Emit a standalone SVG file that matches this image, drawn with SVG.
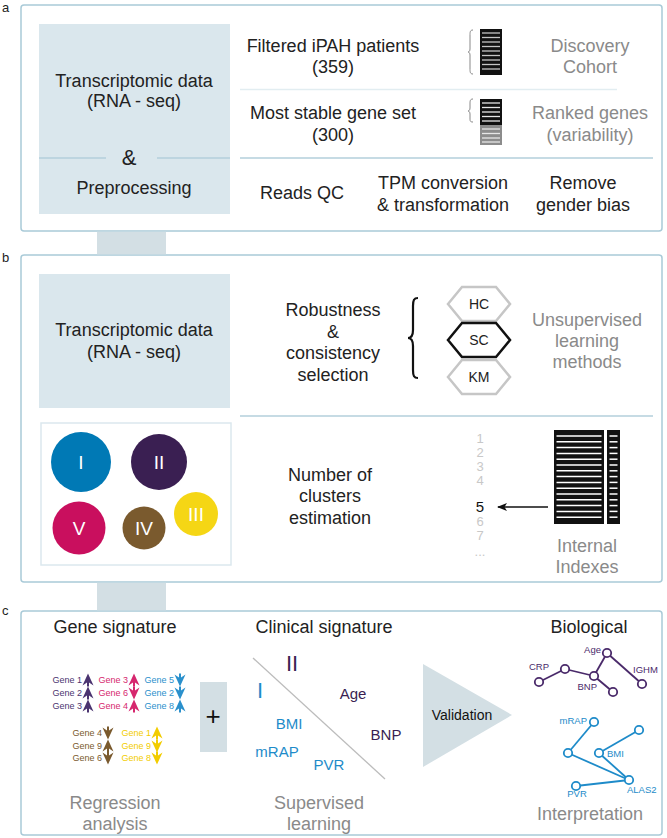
<svg xmlns="http://www.w3.org/2000/svg" xmlns:xlink="http://www.w3.org/1999/xlink" width="667" height="838" viewBox="0 0 667 838">
<style>
text{font-family:"Liberation Sans",Arial,sans-serif;}
.t{font-size:18px;fill:#222;text-anchor:middle;}
.g{font-size:18px;fill:#8a8a8a;text-anchor:middle;}
.lbl{font-size:13px;fill:#222;}
.panel{fill:#fff;stroke:#a9cad8;stroke-width:1.5;}
.bbox{fill:#dae7ed;}
.conn{fill:#d3dfe4;}
.div{stroke:#b3cfdb;stroke-width:1.5;fill:none;}
.num{font-size:13px;fill:#c8c8c8;text-anchor:middle;}
.gene{font-size:9px;text-anchor:end;}
.hex{fill:#fff;stroke:#c6c6c6;stroke-width:2.5;}
.hext{font-size:14px;fill:#222;text-anchor:middle;}
.cl{font-size:15px;text-anchor:middle;}
.nw{font-size:9.5px;}
.pe{stroke:#4a2a6a;stroke-width:1.8;fill:none;}
.be{stroke:#1e8bc9;stroke-width:1.8;fill:none;}
.pn{fill:#fff;stroke:#4a2a6a;stroke-width:1.8;}
.bn{fill:#fff;stroke:#1e8bc9;stroke-width:1.8;}
.circt{font-size:19px;fill:#fff;text-anchor:middle;}
</style>
<defs>
<path id="up" d="M0,-6.5 L5.5,5.5 L1,2.6 L1,6.5 L-1,6.5 L-1,2.6 L-5.5,5.5 Z"/>
<path id="dn" d="M0,6.5 L5.5,-5.5 L1,-2.6 L1,-6.5 L-1,-6.5 L-1,-2.6 L-5.5,-5.5 Z"/>
<marker id="ah" markerWidth="10" markerHeight="8" refX="9" refY="4" orient="auto" markerUnits="userSpaceOnUse">
<path d="M0,0 L10,4 L0,8 L2.5,4 Z" fill="#111"/>
</marker>
</defs>

<!-- Panel a -->
<g id="panel-a">
<text class="lbl" x="2" y="12">a</text>
<rect class="panel" x="21" y="5" width="641" height="226" rx="3"/>
<rect class="bbox" x="39" y="24" width="191" height="190"/>
<text class="t" x="134" y="87">Transcriptomic data</text>
<text class="t" x="134" y="107">(RNA - seq)</text>
<line class="div" x1="39" y1="158" x2="106" y2="158"/>
<line class="div" x1="157" y1="158" x2="230" y2="158"/>
<text class="t" x="129" y="165" style="font-size:22px">&amp;</text>
<text class="t" x="134" y="194">Preprocessing</text>
<text class="t" x="333" y="52">Filtered iPAH patients</text>
<text class="t" x="333" y="73">(359)</text>
<line x1="240" y1="89.5" x2="617" y2="89.5" stroke="#e2edf1" stroke-width="1.5"/>
<text class="t" x="333" y="119">Most stable gene set</text>
<text class="t" x="333" y="141">(300)</text>
<line class="div" x1="240" y1="158" x2="653" y2="158"/>
<text class="t" x="302" y="199">Reads QC</text>
<text class="t" x="443" y="189">TPM conversion</text>
<text class="t" x="443" y="211">&amp; transformation</text>
<text class="t" x="583" y="189">Remove</text>
<text class="t" x="583" y="211">gender bias</text>
<text class="g" x="590" y="52">Discovery</text>
<text class="g" x="590" y="73">Cohort</text>
<text class="g" x="590" y="119">Ranked genes</text>
<text class="g" x="590" y="141">(variability)</text>
<path d="M473,30 C470,30 470,32 470,36 L470,49 C470,51 469,52 468,52 C469,52 470,53 470,55 L470,68 C470,72 470,74 473,74" fill="none" stroke="#888" stroke-width="1"/>
<rect x="480" y="29" width="22" height="46" fill="#111"/>
<g stroke="#c4c4c4" stroke-width="1.3">
<line x1="482" y1="33" x2="500" y2="33"/><line x1="482" y1="37.5" x2="500" y2="37.5"/><line x1="482" y1="42" x2="500" y2="42"/><line x1="482" y1="46.5" x2="500" y2="46.5"/><line x1="482" y1="51" x2="500" y2="51"/><line x1="482" y1="55.5" x2="500" y2="55.5"/><line x1="482" y1="60" x2="500" y2="60"/><line x1="482" y1="64.5" x2="500" y2="64.5"/><line x1="482" y1="69" x2="500" y2="69"/>
</g>
<path d="M473,99 C470,99 470,101 470,104 L470,108 C470,110 469,111 468,111 C469,111 470,112 470,114 L470,118 C470,121 470,122 473,122" fill="none" stroke="#888" stroke-width="1"/>
<rect x="480" y="99" width="22" height="26" fill="#111"/>
<rect x="480" y="125" width="22" height="20" fill="#8c8c8c"/>
<g stroke="#e6e6e6" stroke-width="1.3">
<line x1="482" y1="103" x2="500" y2="103"/><line x1="482" y1="107.5" x2="500" y2="107.5"/><line x1="482" y1="112" x2="500" y2="112"/><line x1="482" y1="116.5" x2="500" y2="116.5"/><line x1="482" y1="121" x2="500" y2="121"/><line x1="482" y1="129" x2="500" y2="129"/><line x1="482" y1="133.5" x2="500" y2="133.5"/><line x1="482" y1="138" x2="500" y2="138"/><line x1="482" y1="142" x2="500" y2="142"/>
</g>
</g>

<!-- Panel b -->
<g id="panel-b">
<text class="lbl" x="2" y="262">b</text>
<rect class="panel" x="21" y="255" width="641" height="327" rx="3"/>
<rect class="bbox" x="39" y="274" width="191" height="134"/>
<text class="t" x="134" y="336">Transcriptomic data</text>
<text class="t" x="134" y="358">(RNA - seq)</text>
<text class="t" x="333" y="316">Robustness</text>
<text class="t" x="333" y="338">&amp;</text>
<text class="t" x="333" y="359">consistency</text>
<text class="t" x="333" y="381">selection</text>
<path d="M418,298 C414,298 413,300 413,306 L413,330 C413,335 412,338 408,338 C412,338 413,341 413,346 L413,370 C413,376 414,378 418,378" fill="none" stroke="#111" stroke-width="2.2"/>
<line class="div" x1="240" y1="416" x2="653" y2="416"/>
<text class="t" x="330" y="481">Number of</text>
<text class="t" x="330" y="502">clusters</text>
<text class="t" x="330" y="524">estimation</text>
<text class="g" x="587" y="326">Unsupervised</text>
<text class="g" x="587" y="347">learning</text>
<text class="g" x="587" y="368">methods</text>
<text class="num" x="480" y="443">1</text>
<text class="num" x="480" y="457">2</text>
<text class="num" x="480" y="471">3</text>
<text class="num" x="480" y="485">4</text>
<text class="num" x="480" y="512" style="fill:#111;font-size:15px">5</text>
<text class="num" x="480" y="526">6</text>
<text class="num" x="480" y="540">7</text>
<text class="num" x="480" y="556">...</text>
<rect x="554" y="430" width="50" height="94" fill="#111"/>
<rect x="607" y="430" width="13" height="94" fill="#111"/>
<g stroke="#fff" stroke-width="1.5">
<line x1="556.5" y1="436" x2="601.5" y2="436"/><line x1="556.5" y1="441.8" x2="601.5" y2="441.8"/><line x1="556.5" y1="447.6" x2="601.5" y2="447.6"/><line x1="556.5" y1="453.4" x2="601.5" y2="453.4"/><line x1="556.5" y1="459.2" x2="601.5" y2="459.2"/><line x1="556.5" y1="465" x2="601.5" y2="465"/><line x1="556.5" y1="470.8" x2="601.5" y2="470.8"/><line x1="556.5" y1="476.6" x2="601.5" y2="476.6"/><line x1="556.5" y1="482.4" x2="601.5" y2="482.4"/><line x1="556.5" y1="488.2" x2="601.5" y2="488.2"/><line x1="556.5" y1="494" x2="601.5" y2="494"/><line x1="556.5" y1="499.8" x2="601.5" y2="499.8"/><line x1="556.5" y1="505.6" x2="601.5" y2="505.6"/><line x1="556.5" y1="511.4" x2="601.5" y2="511.4"/><line x1="556.5" y1="517.2" x2="601.5" y2="517.2"/>
<line x1="609.5" y1="436" x2="617.5" y2="436"/><line x1="609.5" y1="441.8" x2="617.5" y2="441.8"/><line x1="609.5" y1="447.6" x2="617.5" y2="447.6"/><line x1="609.5" y1="453.4" x2="617.5" y2="453.4"/><line x1="609.5" y1="459.2" x2="617.5" y2="459.2"/><line x1="609.5" y1="465" x2="617.5" y2="465"/><line x1="609.5" y1="470.8" x2="617.5" y2="470.8"/><line x1="609.5" y1="476.6" x2="617.5" y2="476.6"/><line x1="609.5" y1="482.4" x2="617.5" y2="482.4"/><line x1="609.5" y1="488.2" x2="617.5" y2="488.2"/><line x1="609.5" y1="494" x2="617.5" y2="494"/><line x1="609.5" y1="499.8" x2="617.5" y2="499.8"/><line x1="609.5" y1="505.6" x2="617.5" y2="505.6"/><line x1="609.5" y1="511.4" x2="617.5" y2="511.4"/><line x1="609.5" y1="517.2" x2="617.5" y2="517.2"/>
</g>
<text class="g" x="587" y="552">Internal</text>
<text class="g" x="587" y="573">Indexes</text>
</g>
<g id="hex-HC">
<polygon class="hex" points="448,304 462,287 496,287 510,304 496,321 462,321"/>
<text class="hext" x="479" y="309">HC</text>
</g>
<g id="hex-SC">
<polygon class="hex" points="448,340 462,323 496,323 510,340 496,357 462,357" style="stroke:#111"/>
<text class="hext" x="479" y="345">SC</text>
</g>
<g id="hex-KM">
<polygon class="hex" points="448,377 462,360 496,360 510,377 496,394 462,394"/>
<text class="hext" x="479" y="382">KM</text>
</g>
<g id="clusters">
<rect x="41" y="423" width="190" height="142" fill="#fff" stroke="#dbe8ee" stroke-width="1.5"/>
<circle cx="81" cy="462" r="30" fill="#0079b5"/>
<text class="circt" x="81" y="469">I</text>
<circle cx="159" cy="462" r="28" fill="#3a1f52"/>
<text class="circt" x="159" y="469">II</text>
<circle cx="79" cy="528" r="26.5" fill="#c90f5e"/>
<text class="circt" x="79" y="535">V</text>
<circle cx="144" cy="528" r="21.5" fill="#7a5a2e"/>
<text class="circt" x="144" y="535">IV</text>
<circle cx="196" cy="514" r="22" fill="#f5d615"/>
<text class="circt" x="196" y="521">III</text>
</g>

<!-- Panel c -->
<g id="panel-c">
<text class="lbl" x="2" y="615">c</text>
<rect class="panel" x="21" y="611" width="641" height="224" rx="3"/>
<text class="t" x="115" y="633">Gene signature</text>
<text class="t" x="324" y="633">Clinical signature</text>
<text class="t" x="589" y="633">Biological</text>
<text class="g" x="115" y="809">Regression</text>
<text class="g" x="115" y="830">analysis</text>
<text class="g" x="319" y="809">Supervised</text>
<text class="g" x="319" y="830">learning</text>
<text class="g" x="590" y="820">Interpretation</text>
</g>
<g id="gene-signature">
<g fill="#4b3470">
<text class="gene" x="82" y="683">Gene 1</text><use href="#up" x="88" y="680"/>
<text class="gene" x="82" y="696">Gene 2</text><use href="#up" x="88" y="693"/>
<text class="gene" x="82" y="709">Gene 3</text><use href="#up" x="88" y="706"/>
</g>
<g fill="#d6276e">
<text class="gene" x="128" y="683">Gene 3</text><use href="#up" x="134" y="680"/>
<text class="gene" x="128" y="696">Gene 6</text><use href="#dn" x="134" y="693"/>
<text class="gene" x="128" y="709">Gene 4</text><use href="#up" x="134" y="706"/>
</g>
<g fill="#2a90cc">
<text class="gene" x="174" y="683">Gene 5</text><use href="#dn" x="180" y="680"/>
<text class="gene" x="174" y="696">Gene 2</text><use href="#dn" x="180" y="693"/>
<text class="gene" x="174" y="709">Gene 8</text><use href="#up" x="180" y="706"/>
</g>
<g fill="#7a5a2e">
<text class="gene" x="102" y="736">Gene 4</text><use href="#dn" x="108" y="733"/>
<text class="gene" x="102" y="749">Gene 9</text><use href="#up" x="108" y="746"/>
<text class="gene" x="102" y="761">Gene 6</text><use href="#dn" x="108" y="758"/>
</g>
<g fill="#f2cc00">
<text class="gene" x="151" y="736">Gene 1</text><use href="#up" x="157" y="733"/>
<text class="gene" x="151" y="749">Gene 9</text><use href="#dn" x="157" y="746"/>
<text class="gene" x="151" y="761">Gene 8</text><use href="#dn" x="157" y="758"/>
</g>
</g>
<g id="plus">
<rect class="conn" x="200" y="682" width="27" height="70"/>
<text x="213" y="725" style="font-size:26px;fill:#111;text-anchor:middle">+</text>
</g>
<g id="clinical-signature">
<line x1="253" y1="658" x2="385" y2="779" stroke="#bcbcbc" stroke-width="1.3"/>
<text x="292" y="671" style="font-size:22px;fill:#3a1f52;text-anchor:middle">II</text>
<text x="260" y="698" style="font-size:22px;fill:#1e8bc9;text-anchor:middle">I</text>
<text class="cl" x="353" y="699" fill="#3a1f52">Age</text>
<text class="cl" x="386" y="740" fill="#3a1f52">BNP</text>
<text class="cl" x="289" y="729" fill="#1e8bc9">BMI</text>
<text class="cl" x="277" y="757" fill="#1e8bc9">mRAP</text>
<text class="cl" x="329" y="770" fill="#1e8bc9">PVR</text>
</g>
<g id="validation">
<polygon points="423,664 512,715 423,767" fill="#d3dfe4"/>
<text x="462" y="720" style="font-size:14px;fill:#111;text-anchor:middle">Validation</text>
</g>

<!-- connectors -->
<g id="connectors">
<rect class="conn" x="97" y="231.8" width="69" height="22.5"/>
<rect class="conn" x="97" y="582.8" width="69" height="27.5"/>
<line x1="548" y1="507" x2="498" y2="507" stroke="#111" stroke-width="1.5" marker-end="url(#ah)"/>
<line class="pe" x1="539" y1="682" x2="565" y2="669"/>
<line class="pe" x1="565" y1="669" x2="594" y2="676"/>
<line class="pe" x1="594" y1="676" x2="607" y2="653"/>
<line class="pe" x1="594" y1="676" x2="613" y2="692"/>
<line class="pe" x1="607" y1="653" x2="642" y2="684"/>
<line class="be" x1="594" y1="722" x2="568" y2="753"/>
<line class="be" x1="568" y1="753" x2="629" y2="780"/>
<line class="be" x1="599" y1="753" x2="629" y2="780"/>
<line class="be" x1="599" y1="753" x2="639" y2="730"/>
<line class="be" x1="576" y1="786" x2="629" y2="780"/>
</g>

<g id="network-purple">
<circle class="pn" cx="539" cy="682" r="4.2"/>
<circle class="pn" cx="565" cy="669" r="4.2"/>
<circle class="pn" cx="594" cy="676" r="4.2"/>
<circle class="pn" cx="607" cy="653" r="4.2"/>
<circle class="pn" cx="613" cy="692" r="4.2"/>
<circle class="pn" cx="642" cy="684" r="4.2"/>
<text class="nw" x="539" y="670" fill="#4a2a6a" text-anchor="middle">CRP</text>
<text class="nw" x="601" y="653" fill="#4a2a6a" text-anchor="end">Age</text>
<text class="nw" x="597" y="690" fill="#4a2a6a" text-anchor="end">BNP</text>
<text class="nw" x="633" y="673" fill="#4a2a6a">IGHM</text>
</g>
<g id="network-blue">
<circle class="bn" cx="594" cy="722" r="4.2"/>
<circle class="bn" cx="568" cy="753" r="4.2"/>
<circle class="bn" cx="599" cy="753" r="4.2"/>
<circle class="bn" cx="639" cy="730" r="4.2"/>
<circle class="bn" cx="629" cy="780" r="4.2"/>
<circle class="bn" cx="576" cy="786" r="4.2"/>
<text class="nw" x="587" y="724" fill="#1e8bc9" text-anchor="end">mRAP</text>
<text class="nw" x="607" y="757" fill="#1e8bc9">BMI</text>
<text class="nw" x="577" y="797" fill="#1e8bc9" text-anchor="middle">PVR</text>
<text class="nw" x="627" y="793" fill="#1e8bc9">ALAS2</text>
</g>
</svg>
